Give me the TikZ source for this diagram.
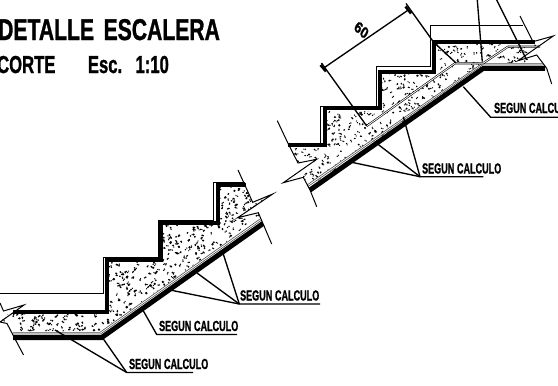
\documentclass[tikz,border=0pt]{standalone}
\usepackage{fontspec}
\setmainfont{Liberation Sans}
\newfontfamily\cadfont[FakeBold=1.3,UprightFont=* Bold]{Liberation Sans}
\begin{document}
\begin{tikzpicture}[x=1pt,y=-1pt,
  thin line/.style={line width=1pt,black},
  thick line/.style={line width=4pt,black,line join=miter},
  base line/.style={line width=5pt,black,line join=miter},
  membrane/.style={line width=0.6pt,black!70},
  leader/.style={line width=1.35pt,black},
  breakline/.style={line width=1pt,black,line join=miter},
  title/.style={font=\cadfont\fontsize{30}{30}\selectfont,xscale=.705,anchor=base west,inner sep=0pt},
  subtitle/.style={font=\cadfont\fontsize{24.5}{24.5}\selectfont,xscale=.68,anchor=base west,inner sep=0pt},
  note/.style={font=\cadfont\fontsize{14.6}{14.6}\selectfont,xscale=.62,anchor=base west,inner sep=0pt},
  dot/.style={fill=black,draw=none}]
\useasboundingbox (0,0) rectangle (558,386);
\fill[white] (0,0) rectangle (558,386);

% ---- concrete hatch, lower flight
\begin{scope}
\clip (8,314) -- (108,314) -- (108,262) -- (162,262) -- (163,225) -- (219,225) -- (219,187) -- (246,187) -- (252,202) -- (272,194) -- (238,218) -- (258,213) -- (260,218) -- (100,331) -- (14,331) -- (7,322) -- (0,322) -- cycle;
\pgfmathsetseed{4242}
\foreach \i in {1,...,1700}{
  \pgfmathsetmacro{\px}{rnd*275}
  \pgfmathsetmacro{\py}{180+rnd*155}
  \pgfmathsetmacro{\pr}{0.75+rnd*rnd*0.7}
  \pgfmathsetmacro{\qx}{\px+1.6-rnd*3.2}
  \pgfmathsetmacro{\qy}{\py+1.6-rnd*3.2}
  \fill[dot] (\px,\py) circle[radius=\pr];
  \fill[dot] (\qx,\qy) circle[radius=.7];
}
\end{scope}

% ---- concrete hatch, upper flight
\begin{scope}
\clip (292,148) -- (327,148) -- (327,111) -- (382,111) -- (382,74) -- (436,74) -- (436,44) -- (533,44) -- (553,36) -- (518,61) -- (537,55) -- (541,63) -- (484,64.5) -- (312,186) -- (303,177) -- (316,159) -- (298,163) -- cycle;
\pgfmathsetseed{777}
\foreach \i in {1,...,1500}{
  \pgfmathsetmacro{\px}{285+rnd*265}
  \pgfmathsetmacro{\py}{35+rnd*155}
  \pgfmathsetmacro{\pr}{0.7+rnd*rnd*0.6}
  \pgfmathsetmacro{\qx}{\px+1.6-rnd*3.2}
  \pgfmathsetmacro{\qy}{\py+1.6-rnd*3.2}
  \fill[dot] (\px,\py) circle[radius=\pr];
  \fill[dot] (\qx,\qy) circle[radius=.65];
}
\end{scope}

% ---- lower flight
\draw[thick line] (13,311.7) -- (106.5,311.7) -- (106.5,260) -- (161,260) -- (161,223) -- (217.5,223) -- (217.5,185) -- (246,185);
\draw[thin line] (0,293) -- (103,293) -- (103,257) -- (158,257) -- (158,220) -- (213.5,220) -- (213.5,182) -- (245,182);
\draw[base line] (13,337.5) -- (101.7,337.5) -- (263,223.5);
\draw[line width=2.2pt,white] (13,333.2) -- (100.2,333.2) -- (260.5,220);
\draw[membrane] (13,334) -- (100.5,334) -- (261,220.5);
\draw[membrane] (13,332.4) -- (99.8,332.4) -- (260,219);
\draw[breakline] (238,170) -- (252.7,202.3) -- (272.7,194) -- (237.7,217.7) -- (258.3,212.7) -- (271.7,244);
\draw[breakline] (0,303) -- (3.5,311) -- (24,305) -- (0,322) -- (7,323.5) -- (13,335) -- (23.5,355);

% ---- upper flight
\draw[thick line] (288.3,145) -- (325,145) -- (325,108.3) -- (380,108.3) -- (380,71.7) -- (434,71.7) -- (434,41.7) -- (535,41.7);
\draw[thin line] (288,143) -- (320.7,143) -- (320.7,106) -- (376,106) -- (376,66.7) -- (430,66.7) -- (430,25) -- (523,25);
\draw[base line] (310,190) -- (483.3,68.3) -- (545,68.3);
\draw[line width=2.2pt,white] (307.5,185.8) -- (482.3,64.3) -- (542.5,64.3);
\draw[membrane] (308,186.5) -- (482.5,65) -- (543,65);
\draw[membrane] (307,185) -- (482,63.6) -- (542,63.6);
\draw[line width=2pt,black] (366.7,126) -- (455,63.3) -- (483,63.3) -- (508,46.7) -- (540,46.7);
\draw[line width=.8pt,white] (366.7,126) -- (455,63.3) -- (483,63.3) -- (508,46.7) -- (540,46.7);
\draw[breakline] (277.3,120.7) -- (288.3,144) -- (298,163) -- (316.7,159.3) -- (283.3,182.7) -- (303.3,177.3) -- (310,190) -- (316.7,206.7);
\draw[breakline] (520,16) -- (533,41.7) -- (553.3,36) -- (518,60.7) -- (536.7,55) -- (546.7,68.3) -- (551.7,84);

% ---- dimension
\coordinate (dimA) at (323.3,68.3);
\coordinate (dimB) at (408.3,10);
\draw[leader] (dimA) -- (dimB);
\draw[leader] (321.5,63) -- (366.7,126);
\draw[leader] (406,3.5) -- (433.5,42) -- (456,63);
\draw[line width=2.6pt] (320.5,65) -- (326,71.5);
\draw[line width=2.6pt] (405.5,6.5) -- (411,13.5);
\node[font=\cadfont\fontsize{16}{16}\selectfont,xscale=.8,rotate=-36,inner sep=0pt] (dimtxt) at (361.5,30) {60};

% ---- top leaders (run off the page)
\draw[leader] (477.3,0) -- (482.3,61.7);
\draw[leader] (496.7,0) -- (526.7,60);

% ---- notes
\node[title] (tA) at (-2,40) {DETALLE\hspace{.45em}ESCALERA};
\node[subtitle] (tB) at (-3,73) {CORTE\hspace{1.95em}Esc.\hspace{.8em}1:10};

\node[note] (n1) at (494,113) {SEGUN\hspace{.3em}CALCULO};
\draw[leader] (558,117.3) -- (490.7,117.3) -- (463.3,86.7);

\node[note] (n2) at (422,173.5) {SEGUN\hspace{.3em}CALCULO};
\coordinate (c2) at (420,176.7);
\draw[leader] (483.3,176.7) -- (c2) -- (403.3,116.7);
\draw[leader] (c2) -- (376.7,143.3);
\draw[leader] (c2) -- (351.7,162.3);

\node[note] (n3) at (240,300.5) {SEGUN\hspace{.3em}CALCULO};
\coordinate (c3) at (239.3,304);
\draw[leader] (320,304) -- (c3) -- (170,290);
\draw[leader] (c3) -- (197,273);
\draw[leader] (c3) -- (222,250);

\node[note] (n4) at (159,331) {SEGUN\hspace{.3em}CALCULO};
\draw[leader] (237,334.5) -- (156.7,334.5) -- (141.7,308);

\node[note] (n5) at (129,369) {SEGUN\hspace{.3em}CALCULO};
\coordinate (c5) at (126.7,372.5);
\draw[leader] (193,372.5) -- (c5) -- (55,330);
\draw[leader] (c5) -- (102,337);
\end{tikzpicture}
\end{document}
